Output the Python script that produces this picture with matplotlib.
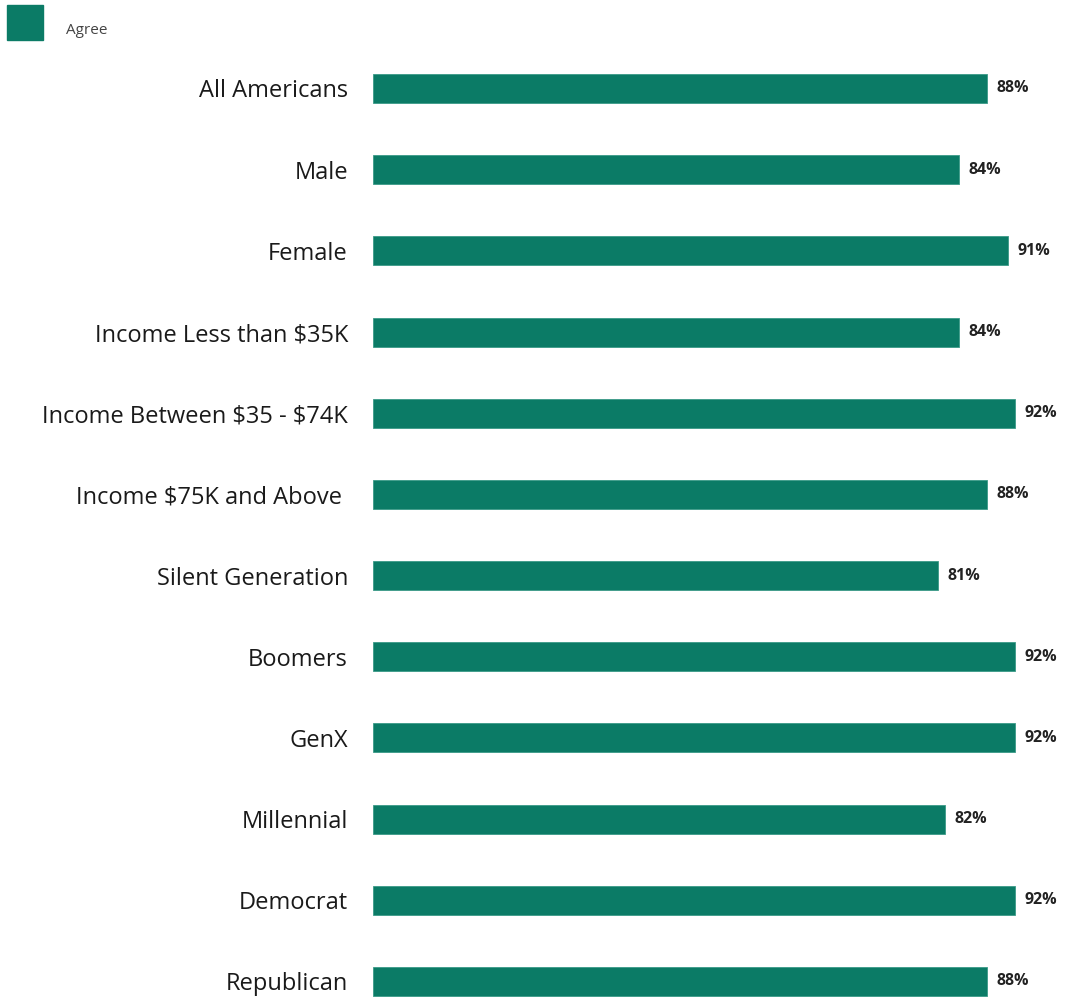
import matplotlib.pyplot as plt
from matplotlib.patches import Rectangle

groups = ['All Americans', 'Male', 'Female', 'Income Less than \\$35K',
          'Income Between \\$35 - \\$74K', 'Income \\$75K and Above ',
          'Silent Generation', 'Boomers', 'GenX', 'Millennial',
          'Democrat', 'Republican']
agree = [88, 84, 91, 84, 92, 88, 81, 92, 92, 82, 92, 88]

green = '#0b7b66'
plt.rcParams['font.family'] = ['Open Sans', 'DejaVu Sans']

fig = plt.figure(figsize=(10.68, 9.98), dpi=100)
# rows are ~81 px apart, first bar centred at y=88 px
ax = fig.add_axes([373 / 1068, -0.0241, 695 / 1068, 0.9761])
ypos = list(range(len(groups)))
ax.barh(ypos, agree, height=0.357, color=green, edgecolor='#3a9a88', linewidth=0.6)
for y, v in zip(ypos, agree):
    ax.text(v + 1.3, y, f'{v}%', va='center', ha='left', fontsize=11.5,
            fontweight='bold', color='#222222')
ax.set_xlim(0, 99.6)
ax.set_ylim(len(groups) - 0.5, -0.5)
ax.set_yticks(ypos)
ax.set_yticklabels(groups, fontsize=17, color='#1a1a1a')
ax.tick_params(axis='y', length=0, pad=18)
ax.set_xticks([])
for s in ax.spines.values():
    s.set_visible(False)

# legend swatch
fig.patches.append(Rectangle((7 / 1068, 1 - 40 / 998), 36 / 1068, 35 / 998,
                             transform=fig.transFigure, color=green))
fig.text(66 / 1068, 1 - 31 / 998, 'Agree', fontsize=11, color='#444444', va='center')

fig.savefig('out.png', dpi=100)
